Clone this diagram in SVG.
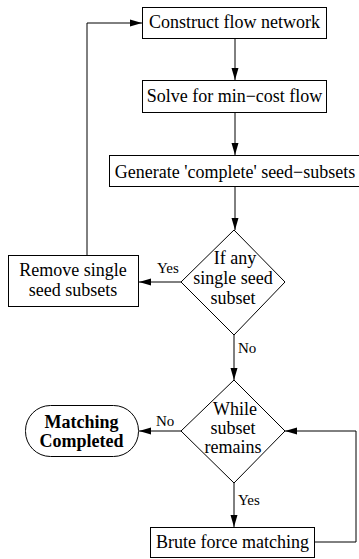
<svg xmlns="http://www.w3.org/2000/svg" width="359" height="559" viewBox="0 0 359 559">
<style>
.n{fill:#fff;stroke:#000;stroke-width:1}
.t{font-family:'Liberation Serif','Times New Roman',Times,serif;font-size:18px;fill:#000;text-anchor:middle}
.b{font-weight:bold}
.l{font-family:'Liberation Serif','Times New Roman',Times,serif;font-size:15px;fill:#000}
.c{fill:none;stroke:#000;stroke-width:1}
</style>
<defs>
<marker id="a" markerWidth="12" markerHeight="8" refX="12" refY="4" orient="auto" markerUnits="userSpaceOnUse">
<path d="M0,0.5 L12,4 L0,7.5 Z" fill="#000"/>
</marker>
</defs>
<g id="connectors">
<path class="c" d="M235,38 V80" marker-end="url(#a)"/>
<path class="c" d="M235,112 V155" marker-end="url(#a)"/>
<path class="c" d="M235,187 V230" marker-end="url(#a)"/>
<path class="c" d="M181,282 H139" marker-end="url(#a)"/>
<path class="c" d="M87,255 V23 H142" marker-end="url(#a)"/>
<path class="c" d="M234,335 V380" marker-end="url(#a)"/>
<path class="c" d="M181,431 H139" marker-end="url(#a)"/>
<path class="c" d="M234,483 V527" marker-end="url(#a)"/>
<path class="c" d="M314,542 H356 V431 H285" marker-end="url(#a)"/>
<text class="l" x="157" y="273">Yes</text>
<text class="l" x="238" y="353">No</text>
<text class="l" x="156" y="426">No</text>
<text class="l" x="238" y="505">Yes</text>
</g>
<g id="construct">
<rect class="n" x="142.5" y="7.5" width="184" height="31"/>
<text class="t" x="234.5" y="28">Construct flow network</text>
</g>
<g id="solve">
<rect class="n" x="142.5" y="80.5" width="184" height="32"/>
<text class="t" x="234.5" y="102">Solve for min−cost flow</text>
</g>
<g id="generate">
<rect class="n" x="109.5" y="155.5" width="250" height="31"/>
<text class="t" x="235" y="178">Generate 'complete' seed−subsets</text>
</g>
<g id="ifany">
<polygon class="n" points="234,230 285,282 234,335 181,282"/>
<text class="t" x="235" y="264">If any</text>
<text class="t" x="233" y="284">single seed</text>
<text class="t" x="233" y="304">subset</text>
</g>
<g id="remove">
<rect class="n" x="8.5" y="255.5" width="130" height="51"/>
<text class="t" x="73" y="276">Remove single</text>
<text class="t" x="73" y="296">seed subsets</text>
</g>
<g id="while">
<polygon class="n" points="234,380 285,431 234,483 181,431"/>
<text class="t" x="235" y="415">While</text>
<text class="t" x="233" y="434">subset</text>
<text class="t" x="233" y="453">remains</text>
</g>
<g id="completed">
<rect class="n" x="25.5" y="405.5" width="113" height="51" rx="25" ry="25"/>
<text class="t b" x="81.5" y="428">Matching</text>
<text class="t b" x="81.5" y="447">Completed</text>
</g>
<g id="brute">
<rect class="n" x="150.5" y="527.5" width="164" height="30"/>
<text class="t" x="232.5" y="548">Brute force matching</text>
</g>
</svg>
